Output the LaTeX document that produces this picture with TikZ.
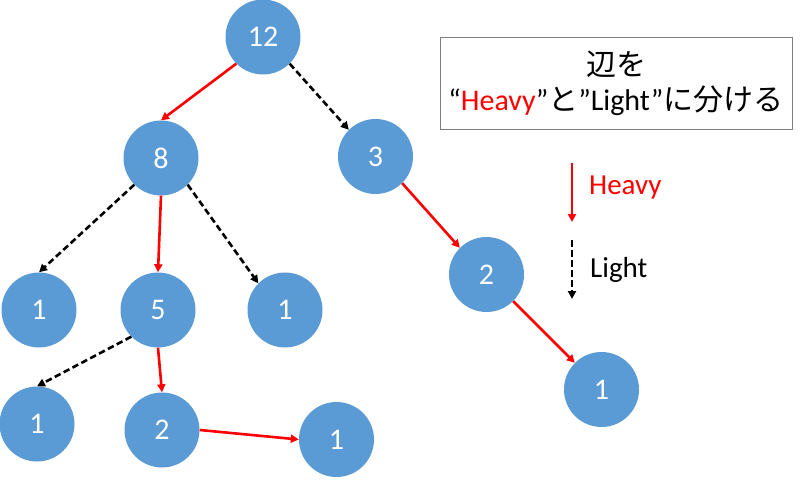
\documentclass[tikz,border=0pt]{standalone}
\usepackage{fontspec}
\setmainfont{Carlito}
\newfontfamily\jpfont{Noto Sans CJK JP}
\usetikzlibrary{positioning, arrows.meta}
\definecolor{nblue}{HTML}{5B9BD5}
\definecolor{hred}{HTML}{FF0000}
\definecolor{bgray}{HTML}{7F7F7F}

\begin{document}
\begin{tikzpicture}[x=1pt, y=-1pt,
    vtx/.style={circle, fill=nblue, minimum size=75pt, inner sep=0pt, text=white, font=\fontsize{30}{36}\selectfont},
    heavy/.style={-{Triangle[length=8pt, width=8pt]}, line width=2.6pt, hred},
    light/.style={-{Triangle[length=8pt, width=8pt]}, line width=2.6pt, black, dash pattern=on 6.5pt off 3.5pt},
    lbl/.style={font=\fontsize{29}{34}\selectfont, inner sep=0pt, anchor=west},
]
\useasboundingbox (0,0) rectangle (800,481);

% tree
\node[vtx] (root) at (263,37) {12};
\node[vtx] (a) at (161,158) {8};
\node[vtx] (b) at (375.5,156.5) {3};
\node[vtx] (aa) at (39,310) {1};
\node[vtx] (ab) at (158,310) {5};
\node[vtx] (ac) at (285,310) {1};
\node[vtx] (ba) at (486.5,274.5) {2};
\node[vtx] (baa) at (601.5,389.5) {1};
\node[vtx] (aba) at (37,424) {1};
\node[vtx] (abb) at (162,430) {2};
\node[vtx] (abba) at (336.5,439.5) {1};

\draw[heavy] (root.south west) -- (a.north);
\draw[light] (root.south east) -- (b.north west);
\draw[light] (a.south west) -- (aa.north);
\draw[heavy] (a.south) -- (ab.north);
\draw[light] (a.south east) -- (ac.north west);
\draw[heavy] (b.south east) -- (ba.north west);
\draw[heavy] (ba.south east) -- (baa.north west);
\draw[light] (ab.south west) -- (aba.north);
\draw[heavy] (ab.south) -- (abb.north);
\draw[heavy] (abb.east) -- (abba.west);

% caption box
\node[draw=bgray, line width=0.8pt, minimum width=352pt, minimum height=92pt, align=center,
      font=\fontsize{30}{35}\selectfont] (cap) at (616,83)
  {{\jpfont 辺を}\\“{\color{hred}Heavy}”{\jpfont と}”Light”{\jpfont に分ける}};

% legend
\coordinate (h1) at (572,163);
\coordinate (h2) at (572,222);
\coordinate (l1) at (572,240);
\coordinate (l2) at (572,299);
\draw[heavy] (h1) -- (h2);
\draw[light] (l1) -- (l2);
\node[lbl, text=hred] (hv) at (589,188) {Heavy};
\node[lbl] (lt) at (590,270) {Light};
\end{tikzpicture}
\end{document}
